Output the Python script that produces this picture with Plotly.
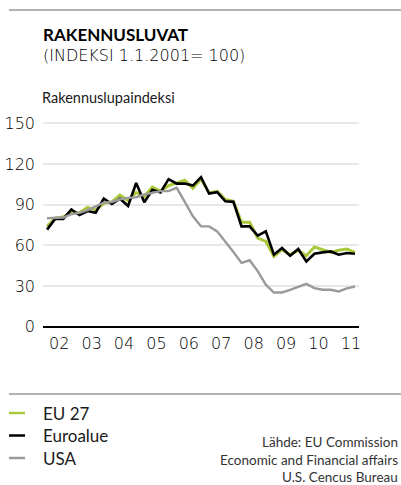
import plotly.graph_objects as go

# Quarterly building-permit index, 2002Q1 - 2011Q3 (1.1.2001 = 100)
years = list(range(2002, 2012))
quarters = [(y, q) for y in years for q in (1, 2, 3, 4)][:39]

eu27 = [74, 80, 81, 84, 84, 88, 86, 91, 92, 97,
        93, 99, 96, 103, 100, 104, 106, 108, 102, 109,
        98.7, 99.9, 93.8, 92.5, 77, 77, 65.4, 62.9, 51.8, 56.8,
        53.1, 56.3, 52.3, 58.8, 56.8, 54.8, 56.3, 57.3, 54.8]

euroalue = [71.6, 79.5, 79.5, 86.4, 82.3, 85.3, 84.1, 94.5, 90.5, 94.4,
            89, 106, 91.8, 101, 99, 108.8, 105.5, 105.6, 104.1, 110.3,
            98.2, 99.2, 92.5, 92.1, 74, 74, 67.1, 70.3, 53.1, 58,
            52.3, 57.3, 48.1, 53.8, 54.8, 55.5, 53.1, 54.3, 53.8]

usa = [80, 80, 80.5, 83, 84, 86, 89, 91.5, 92, 94,
       95, 95.5, 97.5, 99, 100, 100, 102.4, 92, 81.4, 74,
       74, 70.3, 63, 55, 47, 49, 41, 31, 25.2, 25.2,
       27.2, 29.2, 31.6, 28.4, 27.2, 27.2, 26, 28.2, 29.6]

series_names = ["EU 27", "Euroalue", "USA"]
series_colors = ["#a9c93a", "#000000", "#9a9a9a"]
series_widths = [3, 2.6, 2.4]

y_ticks = [0, 30, 60, 90, 120, 150]
x_tick_labels = [f"{y % 100:02d}" for y in years]

# each quarter is drawn at the middle of its quarter-year slot
x_pos = [y + (q - 0.5) / 4 for y, q in quarters]

W, H = 401, 485
ML, MR, MT, MB = 43, 42, 122, 157
PW, PH = W - ML - MR, H - MT - MB


def px(x):
    return (x - ML) / PW


def py(y):
    return (H - MB - y) / PH


FONT = "Lato"
THIN = "DejaVu Sans"
TXT = "#1a1a1a"

fig = go.Figure()
for vals, name, col, wd in zip([eu27, euroalue, usa], series_names,
                               series_colors, series_widths):
    fig.add_trace(go.Scatter(x=x_pos, y=vals, mode="lines", name=name,
                             line=dict(color=col, width=wd),
                             showlegend=False, hoverinfo="skip"))

fig.update_layout(
    template="none",
    width=W, height=H,
    margin=dict(l=ML, r=MR, t=MT, b=MB, pad=0, autoexpand=False),
    paper_bgcolor="white", plot_bgcolor="white",
    font=dict(family=FONT, color=TXT, size=15),
    xaxis=dict(range=[2002, 2011.75], tickvals=[y + 0.5 for y in years],
               ticktext=x_tick_labels, showgrid=False, zeroline=False,
               showline=False, ticks="", ticklabelstandoff=4,
               automargin=False,
               tickfont=dict(size=16, family=THIN, weight=200,
                             color="#000000")),
    yaxis=dict(range=[-1, 151], tickvals=y_ticks, showgrid=True,
               gridcolor="#e8e8e8", gridwidth=2, zeroline=True,
               zerolinecolor="#000000", zerolinewidth=2, showline=False,
               ticks="", ticklabelstandoff=7, automargin=False,
               tickfont=dict(size=16, family=THIN, weight=200,
                             color="#000000")),
)

shapes = [
    dict(type="line", xref="paper", yref="paper", x0=px(9), x1=px(401),
         y0=py(10), y1=py(10), line=dict(color="#666666", width=1.2)),
    dict(type="line", xref="paper", yref="paper", x0=px(9), x1=px(401),
         y0=py(394), y1=py(394), line=dict(color="#666666", width=1.2)),
]

annotations = [
    dict(text="<b>RAKENNUSLUVAT</b>", x=px(41), y=py(34.5), xref="paper",
         yref="paper", xanchor="left", yanchor="middle", showarrow=False,
         font=dict(size=17, color="#000000")),
    dict(text="(INDEKSI 1.1.2001= 100)", x=px(41), y=py(55.5), xref="paper",
         yref="paper", xanchor="left", yanchor="middle", showarrow=False,
         font=dict(size=16, color="#000000", family=THIN, weight=200)),
    dict(text="Rakennuslupaindeksi", x=px(40), y=py(97), xref="paper",
         yref="paper", xanchor="left", yanchor="middle", showarrow=False,
         font=dict(size=14.5, color=TXT)),
]

# legend
for i, (name, col) in enumerate(zip(series_names, series_colors)):
    yy = 413 + i * 22.5
    shapes.append(dict(type="line", xref="paper", yref="paper",
                       x0=px(9), x1=px(25), y0=py(yy), y1=py(yy),
                       line=dict(color=col, width=2.5)))
    annotations.append(dict(text=name, x=px(41), y=py(yy), xref="paper",
                            yref="paper", xanchor="left", yanchor="middle",
                            showarrow=False, font=dict(size=17, color=TXT)))

source_lines = ["Lähde: EU Commission", "Economic and Financial affairs",
                "U.S. Cencus Bureau"]
for i, line in enumerate(source_lines):
    annotations.append(dict(text=line, x=px(400), y=py(442 + i * 17.5),
                            xref="paper", yref="paper", xanchor="right",
                            yanchor="middle", showarrow=False,
                            font=dict(size=13.5, color="#333333")))

fig.update_layout(shapes=shapes, annotations=annotations)
fig.write_html("out.html")
